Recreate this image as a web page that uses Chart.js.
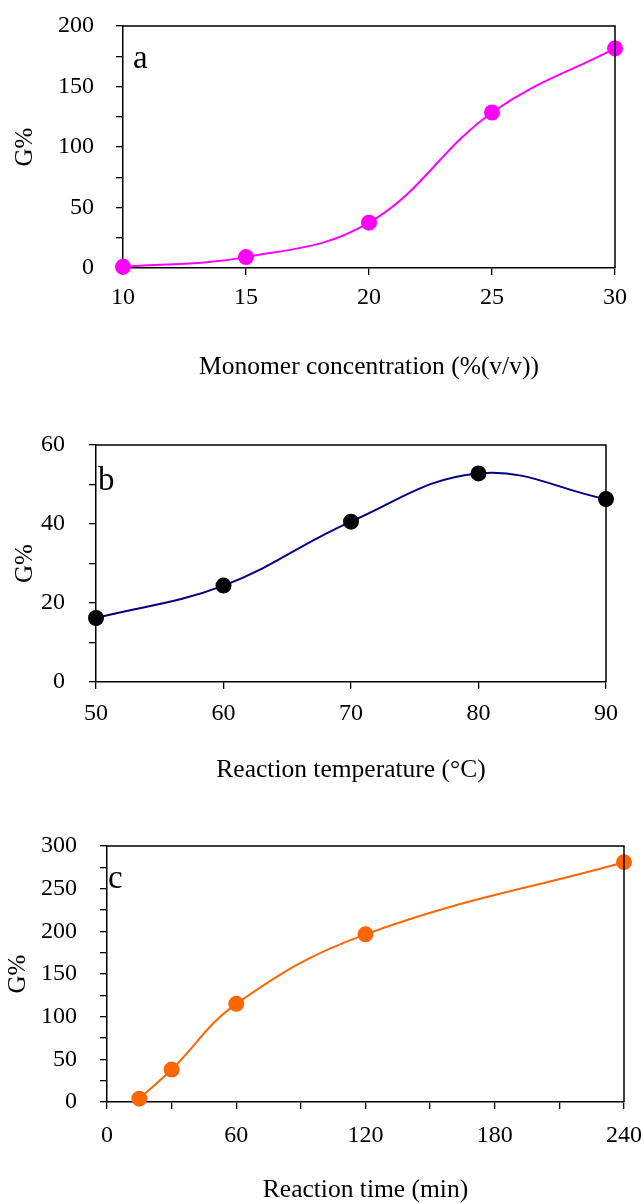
<!DOCTYPE html>
<html>
<head>
<meta charset="utf-8">
<script src="https://cdn.jsdelivr.net/npm/chart.js@4"></script>
<style>
  body { margin: 0; background: #fff; }
  canvas { position: absolute; left: 0; }
</style>
</head>
<body>
<canvas id="chart-a" width="643" height="400" style="top:0px"></canvas>
<canvas id="chart-b" width="643" height="400" style="top:400px"></canvas>
<canvas id="chart-c" width="643" height="403" style="top:800px"></canvas>
<script>
// a - concentracion de monomero
const concentracion = [10, 15, 20, 25, 30];
const injertoA = [1, 9, 37.5, 128.5, 181.5];
const etiquetasXA = [10, 15, 20, 25, 30];
const etiquetasYA = [0, 50, 100, 150, 200];

// b - temperatura de reaccion
const temperatura = [50, 60, 70, 80, 90];
const injertoB = [16.2, 24.4, 40.6, 52.8, 46.3];
const etiquetasXB = [50, 60, 70, 80, 90];
const etiquetasYB = [0, 20, 40, 60];

// c - tiempo de reaccion
const tiempo = [15, 30, 60, 120, 240];
const injertoC = [3.9, 38, 115, 196.5, 281];
const etiquetasXC = [0, 60, 120, 180, 240];
const etiquetasYC = [0, 50, 100, 150, 200, 250, 300];

const fuente = "'Liberation Serif', 'Times New Roman', serif";

// caja completa + letra del panel
const marco = {
  id: "marco",
  afterDraw(chart, args, opts) {
    const { ctx, chartArea: a } = chart;
    ctx.save();
    ctx.strokeStyle = "#000";
    ctx.lineWidth = 1.5;
    ctx.beginPath();
    ctx.moveTo(a.left, a.top);
    ctx.lineTo(a.right, a.top);
    ctx.lineTo(a.right, a.bottom);
    ctx.stroke();
    ctx.fillStyle = "#000";
    ctx.font = "33px " + fuente;
    ctx.textBaseline = "alphabetic";
    ctx.fillText(opts.letra, a.left + opts.dx, a.top + opts.dy);
    ctx.restore();
  },
};

const crearGrafico = (id, xs, ys, cfg) => {
  const ctx = document.querySelector(id).getContext("2d");
  const puntos = xs.map((x, i) => ({ x: x, y: ys[i] }));
  return new Chart(ctx, {
    type: "line",
    data: {
      datasets: [
        {
          data: puntos,
          borderColor: cfg.colorLinea,
          backgroundColor: cfg.colorPunto,
          pointBackgroundColor: cfg.colorPunto,
          pointBorderColor: cfg.colorPunto,
          borderWidth: 2,
          pointRadius: 7,
          tension: 0.4,
          clip: false,
        },
      ],
    },
    options: {
      responsive: false,
      animation: false,
      layout: { padding: { top: cfg.arriba, right: cfg.derecha, left: 0, bottom: 0 } },
      plugins: {
        legend: { display: false },
        tooltip: { enabled: false },
        marco: { letra: cfg.letra, dx: cfg.letraDx, dy: cfg.letraDy },
      },
      scales: {
        x: {
          type: "linear",
          min: cfg.xMin,
          max: cfg.xMax,
          afterFit: (s) => {
            s.height = cfg.altoX;
            s.paddingLeft = 0;
            s.paddingRight = 0;
          },
          ticks: {
            stepSize: cfg.pasoX,
            color: "#000",
            font: { family: fuente, size: 24, lineHeight: 1 },
            padding: cfg.padX,
            maxRotation: 0,
            autoSkip: false,
            callback: (v) => (cfg.etqX.includes(v) ? v : ""),
          },
          grid: { drawOnChartArea: false, color: "#000", tickLength: 7, lineWidth: 1.3 },
          border: { color: "#000", width: 1.5 },
          title: {
            display: true,
            text: cfg.tituloX,
            color: "#000",
            font: { family: fuente, size: 25.5, lineHeight: 1 },
            padding: { top: 0, bottom: cfg.padTituloX },
          },
        },
        y: {
          min: cfg.yMin,
          max: cfg.yMax,
          afterFit: (s) => {
            s.width = cfg.izquierda;
            s.paddingTop = 0;
            s.paddingBottom = 0;
          },
          ticks: {
            stepSize: cfg.pasoY,
            color: "#000",
            font: { family: fuente, size: 24, lineHeight: 1 },
            padding: cfg.padY,
            autoSkip: false,
            callback: (v) => (cfg.etqY.includes(v) ? v : ""),
          },
          grid: { drawOnChartArea: false, color: "#000", tickLength: 7, lineWidth: 1.3 },
          border: { color: "#000", width: 1.5 },
          title: {
            display: true,
            text: "G%",
            color: "#000",
            font: { family: fuente, size: 25, lineHeight: 1 },
            padding: { top: cfg.padTituloY, bottom: 0 },
          },
        },
      },
    },
    plugins: [marco],
  });
};

const chartA = crearGrafico("#chart-a", concentracion, injertoA, {
  colorLinea: "#ff00ff", colorPunto: "#ff00ff",
  xMin: 10, xMax: 30, pasoX: 5, etqX: etiquetasXA,
  yMin: 0, yMax: 200, pasoY: 25, etqY: etiquetasYA,
  tituloX: "Monomer concentration (%(v/v))",
  arriba: 26, derecha: 28, izquierda: 123, altoX: 132,
  padX: 11, padY: 22, padTituloX: 20, padTituloY: 13,
  letra: "a", letraDx: 10, letraDy: 42,
});

const chartB = crearGrafico("#chart-b", temperatura, injertoB, {
  colorLinea: "#000080", colorPunto: "#000000",
  xMin: 50, xMax: 90, pasoX: 10, etqX: etiquetasXB,
  yMin: 0, yMax: 60, pasoY: 10, etqY: etiquetasYB,
  tituloX: "Reaction temperature (°C)",
  arriba: 45, derecha: 37, izquierda: 96, altoX: 118,
  padX: 13, padY: 24, padTituloX: 17, padTituloY: 13,
  letra: "b", letraDx: 2, letraDy: 45,
});

const chartC = crearGrafico("#chart-c", tiempo, injertoC, {
  colorLinea: "#ff6600", colorPunto: "#ff6600",
  xMin: 0, xMax: 240, pasoX: 30, etqX: etiquetasXC,
  yMin: 0, yMax: 300, pasoY: 25, etqY: etiquetasYC,
  tituloX: "Reaction time (min)",
  arriba: 46, derecha: 19, izquierda: 107, altoX: 101,
  padX: 15, padY: 23, padTituloX: 0, padTituloY: 6,
  letra: "c", letraDx: 1, letraDy: 42,
});
</script>
</body>
</html>
